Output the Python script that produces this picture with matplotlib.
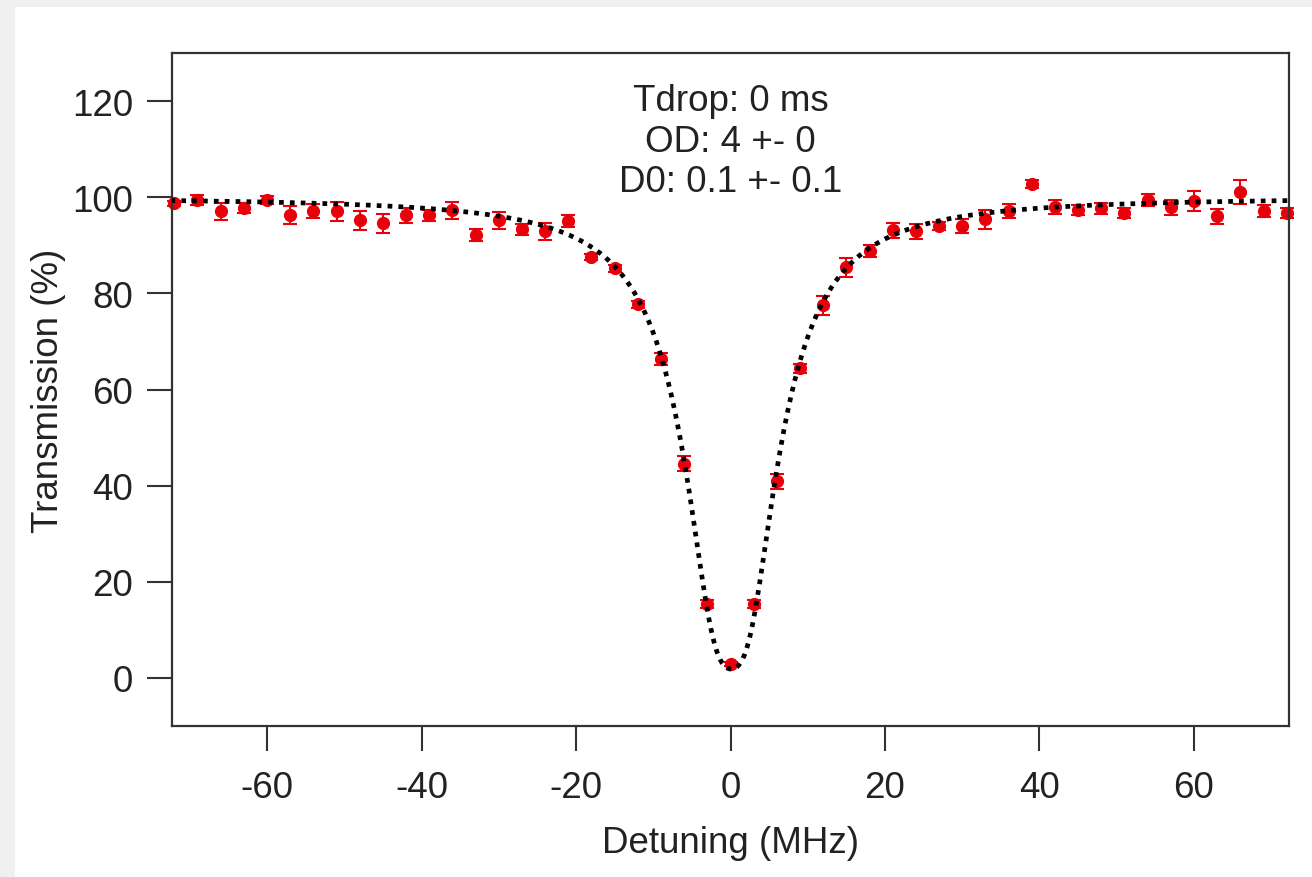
import numpy as np
import matplotlib
matplotlib.use("Agg")
import matplotlib.pyplot as plt
from matplotlib.patches import Rectangle

# Data
detuning = [-72, -69, -66, -63, -60, -57, -54, -51, -48, -45, -42, -39, -36, -33,
            -30, -27, -24, -21, -18, -15, -12, -9, -6, -3, 0, 3, 6, 9, 12, 15,
            18, 21, 24, 27, 30, 33, 36, 39, 42, 45, 48, 51, 54, 57, 60, 63, 66, 69, 72]
transmission = [98.7, 99.4, 97.1, 97.7, 99.4, 96.3, 97.1, 97.1, 95.2, 94.6, 96.2, 96.2,
                97.3, 92.1, 95.2, 93.3, 92.9, 95.0, 87.5, 85.2, 77.7, 66.3, 44.6, 15.4,
                2.9, 15.4, 40.9, 64.4, 77.5, 85.4, 88.8, 93.1, 92.9, 94.0, 94.0, 95.4,
                97.1, 102.7, 98.0, 97.3, 97.7, 96.7, 99.4, 97.9, 99.2, 96.0, 101.0, 97.1, 96.7]
errors = [0.5, 1.0, 1.8, 1.0, 0.8, 1.8, 1.5, 2.0, 2.0, 2.0, 1.5, 1.2, 1.8, 1.2,
          1.8, 1.2, 1.8, 1.2, 0.6, 0.8, 0.8, 1.2, 1.5, 0.8, 0.5, 0.8, 1.5, 1.0, 2.0, 2.0,
          1.2, 1.5, 1.5, 0.8, 1.5, 2.0, 1.5, 0.8, 1.5, 1.0, 1.2, 1.0, 1.2, 1.5, 2.0, 1.5,
          2.5, 1.2, 1.0]

# Fit parameters (Lorentzian absorption model)
fit_od = 4.0
fit_d0 = 0.1
fit_gamma = 6.07  # MHz

annotation_lines = ["Tdrop: 0 ms", "OD: 4 +- 0", "D0: 0.1 +- 0.1"]
xticks = [-60, -40, -20, 0, 20, 40, 60]
yticks = [0, 20, 40, 60, 80, 100, 120]

plt.rcParams['font.family'] = ['Liberation Sans', 'DejaVu Sans']
plt.rcParams['axes.unicode_minus'] = False
FS = 26.5
TXT = '#222222'

fig = plt.figure(figsize=(13.12, 8.78), dpi=100)
fig.patch.set_facecolor('#f0f0f0')
fig.patches.append(Rectangle((15 / 1312, 0), 1, 1 - 8 / 878, transform=fig.transFigure,
                             facecolor='white', edgecolor='none', zorder=-10))

ax = fig.add_axes([172 / 1312, 1 - 727 / 878, (1289 - 172) / 1312, (727 - 54) / 878])
ax.set_zorder(1)
ax.set_facecolor('white')

xf = np.linspace(-72.5, 72.5, 600)
yf = 100 * np.exp(-fit_od / (1 + 4 * (xf - fit_d0) ** 2 / fit_gamma ** 2))

ax.errorbar(detuning, transmission, yerr=errors, fmt='o', color='#e8000b',
            ecolor='#e8000b', markersize=8.5, elinewidth=1.5, capsize=5, capthick=1.5,
            zorder=2, clip_on=False)
ax.plot(xf, yf, color='black', linewidth=3.4, linestyle=(0, (1, 1.3)), zorder=3)

ax.set_xlim(-72.3, 72.3)
ax.set_ylim(-10, 130)
ax.set_xticks(xticks)
ax.set_yticks(yticks)
ax.tick_params(axis='both', direction='out', length=18, width=1.5, colors='#333333',
               labelsize=FS, labelcolor=TXT)
ax.tick_params(axis='x', pad=14)
ax.tick_params(axis='y', pad=10)
for sp in ax.spines.values():
    sp.set_linewidth(1.6)
    sp.set_color('#333333')

ax.set_xlabel("Detuning (MHz)", fontsize=FS, color=TXT, labelpad=14)
ax.set_ylabel("Transmission (%)", fontsize=FS, color=TXT, labelpad=4)

ax.text(0, (727 - 142) / (727 - 54), "\n".join(annotation_lines),
        transform=ax.get_xaxis_transform(),
        fontsize=FS, color=TXT, ha='center', va='center', linespacing=1.22)

fig.savefig("out.png", dpi=100, facecolor=fig.get_facecolor())
